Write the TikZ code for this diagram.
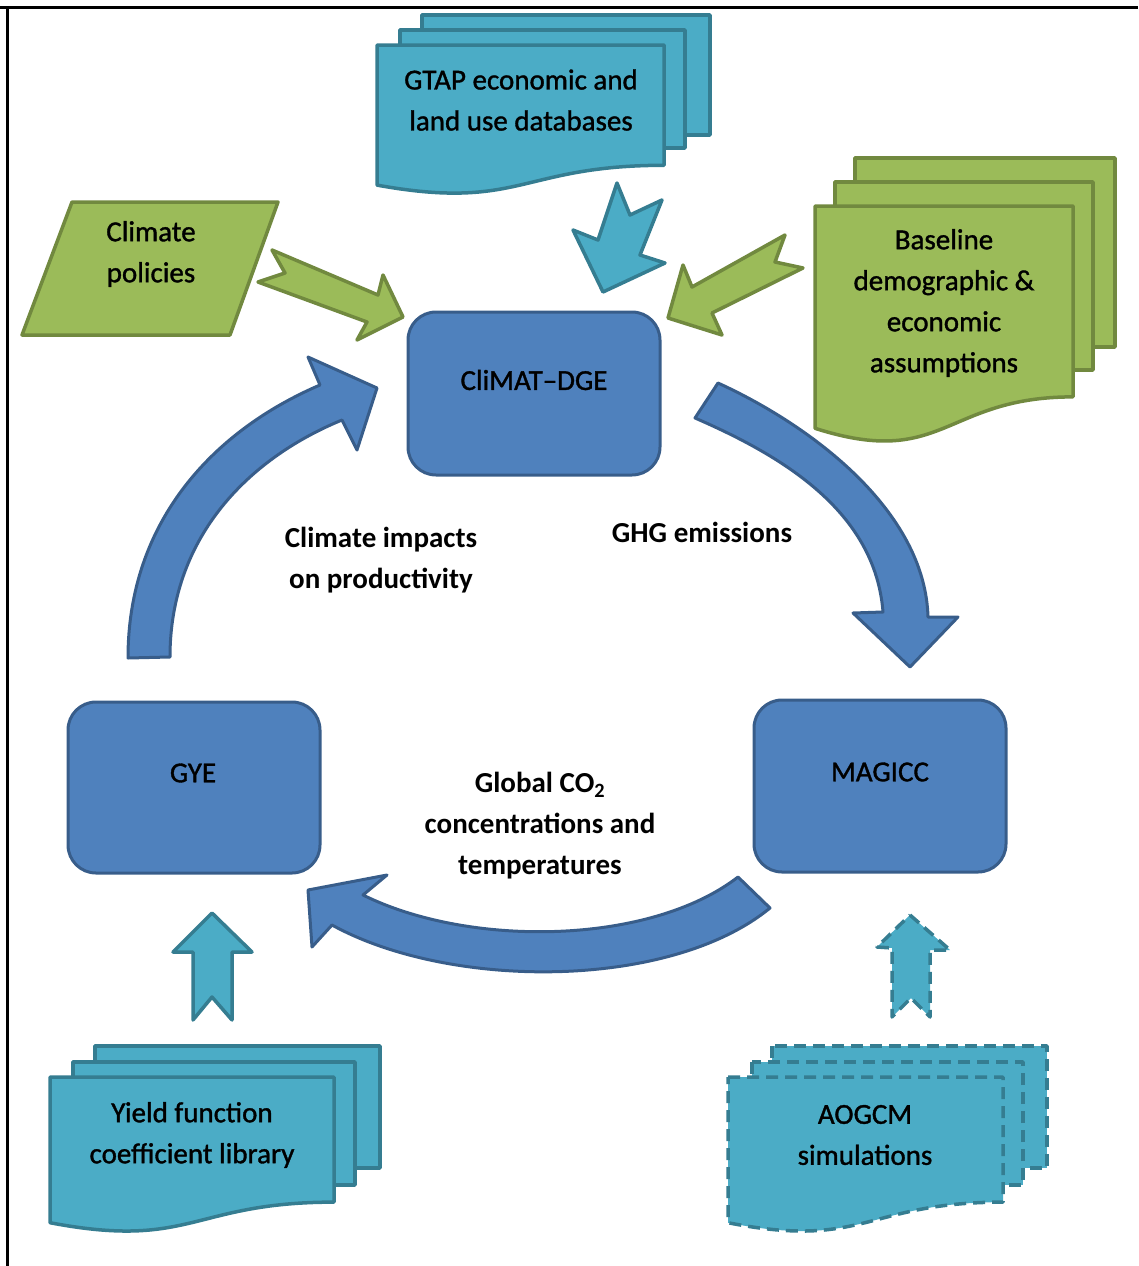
\documentclass[tikz,border=0pt]{standalone}
\usepackage{fontspec}
\setmainfont{Carlito}
\newfontfamily\outlfont[FakeBold=1.2]{Carlito}
\definecolor{tealF}{HTML}{4BACC6}
\definecolor{tealD}{HTML}{357D91}
\definecolor{greenF}{HTML}{9BBB59}
\definecolor{greenD}{HTML}{71893F}
\definecolor{blueF}{HTML}{4F81BD}
\definecolor{blueD}{HTML}{385D8A}
\newcommand\boxfont{\outlfont\fontsize{29}{41}\selectfont}
\newcommand\labelfont{\fontsize{29}{41}\selectfont\bfseries}
\newcommand\docshape[5]{%
  \path[#1] (#2,#3) -- ({#2+#4},#3) -- ({#2+#4},{#3+0.802*#5})
    .. controls ({#2+0.5*#4},{#3+0.802*#5}) and ({#2+0.5*#4},{#3+1.1075*#5}) .. (#2,{#3+0.934*#5}) -- cycle;}
\tikzset{
  tealshape/.style={fill=tealF, draw=tealD, line width=3.5pt, line join=round},
  greenshape/.style={fill=greenF, draw=greenD, line width=3.5pt, line join=round},
  blueshape/.style={fill=blueF, draw=blueD, line width=3pt, line join=round},
  dashedteal/.style={tealshape, dash pattern=on 12pt off 7pt},
  modelbox/.style={blueshape, rounded corners=28pt, inner sep=0pt},
  boxtext/.style={align=center, font=\boxfont, inner sep=0pt},
  labeltext/.style={align=center, font=\labelfont, inner sep=0pt},
  framestyle/.style={draw=black, line width=3pt},
}
\begin{document}
\begin{tikzpicture}[x=1pt, y=-1pt]
\useasboundingbox (0,0) rectangle (1138,1266);
% frame
\draw[framestyle] (0,7.5) -- (1138,7.5);
\draw[framestyle, line width=2.5pt] (7.5,7.5) -- (7.5,1266);

% curved arrows
\path[blueshape] (128,658) .. controls (128,520) and (215,430) .. (320,385) -- (308,357) -- (377,388) -- (357,450) -- (342,420) .. controls (245,460) and (170,540) .. (170,657) -- cycle;
\path[blueshape] (718,383) .. controls (810,425) and (925,510) .. (928,617) -- (958,617) -- (910,667) -- (853,613) -- (883,612) .. controls (875,510) and (780,455) .. (695,418) -- cycle;
\path[blueshape] (738,877) .. controls (650,945) and (470,948) .. (363,895) -- (387,875) -- (308,890) -- (312,947) -- (332,925) .. controls (450,990) and (670,990) .. (770,908) -- cycle;

% model boxes
\node[modelbox, minimum width=252pt, minimum height=163pt] (climat) at (534,393.5) {};
\node[boxtext] (climatT) at (534,380) {CliMAT–DGE};
\node[modelbox, minimum width=252pt, minimum height=171pt] (gye) at (194,787.5) {};
\node[boxtext] (gyeT) at (193,773) {GYE};
\node[modelbox, minimum width=252pt, minimum height=172pt] (magicc) at (880,786) {};
\node[boxtext] (magiccT) at (880,772) {MAGICC};

% GTAP multi-document
\path[tealshape] (422,15) rectangle (710,135);
\path[tealshape] (400,30) rectangle (685,148);
\docshape{tealshape}{377}{45}{287}{150}
\node[boxtext] (gtapT) at (521,100) {GTAP economic and\\land use databases};

% Climate policies
\path[greenshape] (72,202) -- (278,202) -- (230,335) -- (22,335) -- cycle;
\node[boxtext] (policyT) at (151,254) {Climate\\policies};

% Baseline multi-document
\path[greenshape] (855,158) rectangle (1115,347);
\path[greenshape] (835,182) rectangle (1093,370);
\docshape{greenshape}{815}{206}{258}{238}
\node[boxtext] (baseT) at (944,303) {Baseline\\demographic \&\\economic\\assumptions};

% input arrows
\path[greenshape] (272,250) -- (378,295) -- (383,275) -- (403,317) -- (357,340) -- (367,322) -- (258,282) -- (285,273) -- cycle;
\path[tealshape] (617,183) -- (598,240) -- (573,230) -- (603,292) -- (665,263) -- (640,255) -- (662,200) -- (630,215) -- cycle;
\path[greenshape] (785,235) -- (692,287) -- (683,265) -- (668,318) -- (722,335) -- (712,313) -- (803,268) -- (775,262) -- cycle;

% Yield multi-document
\path[tealshape] (95,1046) rectangle (380,1168);
\path[tealshape] (73,1062) rectangle (355,1185);
\docshape{tealshape}{50}{1077}{284}{156}
\node[boxtext] (yieldT) at (192,1135) {Yield function\\coefficient library};
\path[tealshape] (212,913) -- (252,952) -- (232,952) -- (232,1020) -- (212,997) -- (193,1020) -- (193,952) -- (173,952) -- cycle;

% AOGCM multi-document (dashed)
\path[dashedteal] (772,1046) rectangle (1047,1168);
\path[dashedteal] (752,1062) rectangle (1023,1185);
\docshape{dashedteal}{728}{1077}{275}{156}
\node[boxtext] (aogcmT) at (865,1135) {AOGCM\\simulations};
\path[dashedteal] (910,915) -- (950,950) -- (930,950) -- (930,1017) -- (911,998) -- (892,1017) -- (892,948) -- (877,947) -- cycle;

% labels
\node[labeltext] (impactT) at (381,560) {Climate impacts\\on productivity};
\node[labeltext] (ghgT) at (702,532) {GHG emissions};
\node[labeltext] (co2T) at (540,826) {Global CO\textsubscript{2}\\concentrations and\\temperatures};
\end{tikzpicture}
\end{document}
